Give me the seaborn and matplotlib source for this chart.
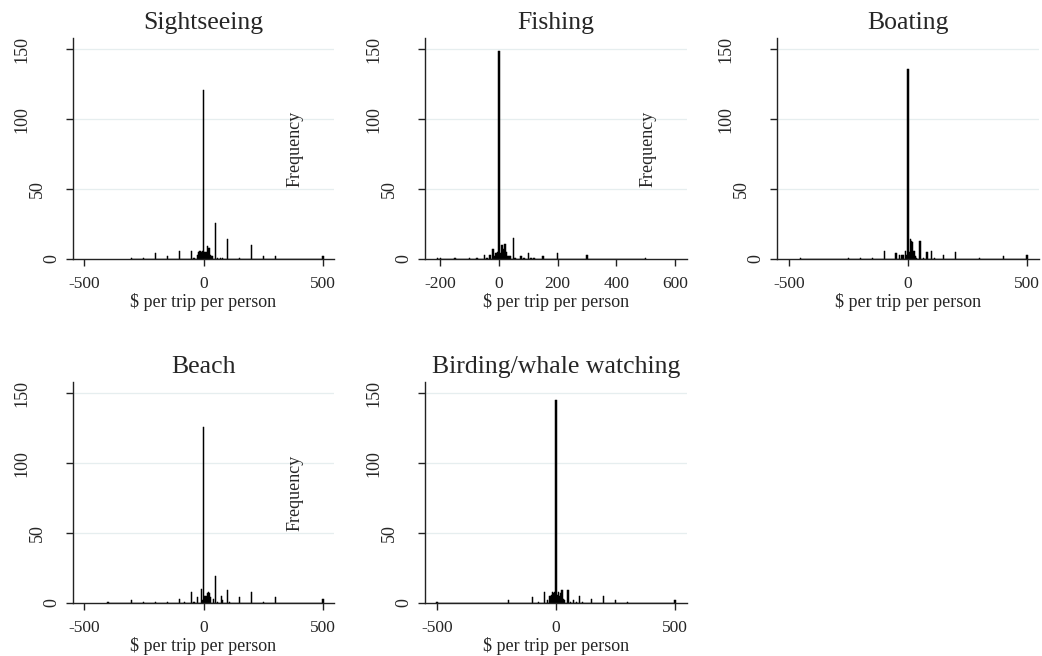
import numpy as np
import pandas as pd
import matplotlib
matplotlib.use("Agg")
import matplotlib.pyplot as plt
import seaborn as sns

# willingness to pay by activity: $ value and number of respondents
sight_x = [-300, -250, -200, -150, -100, -50, -40, -25, -20, -15, -10, -5, 0, 5, 10, 15, 20, 25, 30, 35,
           50, 60, 70, 80, 100, 150, 200, 250, 300, 500]
sight_n = [1, 1, 4, 2, 6, 6, 1, 3, 5, 6, 5, 6, 121, 5, 5, 9, 8, 8, 3, 2,
           26, 1, 1, 1, 14, 1, 10, 2, 2, 2]

fish_x = [-210, -200, -150, -100, -75, -50, -40, -30, -20, -15, -10, -5, 0, 5, 10, 15, 20, 25, 30, 35,
          40, 50, 55, 75, 85, 100, 110, 120, 150, 200, 300, 500]
fish_n = [1, 1, 1, 1, 1, 3, 1, 3, 7, 2, 4, 5, 149, 4, 10, 7, 11, 5, 2, 2,
          2, 15, 1, 2, 1, 4, 1, 1, 2, 4, 3, 1]

boat_x = [-450, -250, -200, -150, -100, -50, -35, -25, -20, -10, -5, 0, 5, 10, 15, 20, 25, 30, 35,
          50, 65, 80, 100, 110, 150, 200, 300, 400, 500]
boat_n = [1, 1, 1, 1, 6, 4, 3, 3, 3, 6, 3, 136, 5, 14, 13, 12, 6, 2, 1,
          13, 1, 5, 6, 1, 3, 5, 1, 2, 3]

beach_x = [-400, -300, -250, -200, -150, -100, -80, -50, -40, -25, -10, -5, 0, 5, 10, 15, 20, 25, 30,
           40, 50, 60, 75, 80, 100, 110, 150, 200, 250, 300, 500]
beach_n = [1, 2, 1, 1, 1, 3, 1, 8, 1, 4, 10, 2, 126, 5, 5, 7, 8, 7, 4,
           3, 19, 1, 5, 2, 9, 1, 4, 8, 1, 4, 3]

bird_x = [-500, -200, -100, -75, -50, -35, -25, -20, -15, -10, -5, 0, 5, 10, 15, 20, 25, 30, 35,
          50, 60, 75, 85, 100, 110, 150, 200, 250, 300, 500]
bird_n = [1, 2, 4, 1, 8, 2, 5, 6, 8, 7, 8, 145, 6, 8, 5, 7, 9, 3, 2,
          9, 1, 2, 1, 5, 1, 3, 5, 2, 1, 2]

titles = ["Sightseeing", "Fishing", "Boating", "Beach", "Birding/whale watching"]
y_ticks = [0, 50, 100, 150]

sns.set_theme(style="white")
plt.rcParams["font.family"] = ["Liberation Serif", "DejaVu Serif"]

panels = [
    (titles[0], sight_x, sight_n, (-546, 546), [-500, 0, 500], True, [0.0701, 0.6052, 0.2505, 0.3369]),
    (titles[1], fish_x, fish_n, (-252, 641), [-200, 0, 200, 400, 600], True, [0.4079, 0.6052, 0.2514, 0.3369]),
    (titles[2], boat_x, boat_n, (-550, 550), [-500, 0, 500], False, [0.7457, 0.6052, 0.2514, 0.3369]),
    (titles[3], beach_x, beach_n, (-546, 546), [-500, 0, 500], True, [0.0701, 0.0808, 0.2505, 0.3369]),
    (titles[4], bird_x, bird_n, (-550, 550), [-500, 0, 500], False, [0.4079, 0.0808, 0.2514, 0.3369]),
]

fig = plt.figure(figsize=(10.42, 6.56), dpi=100)

for title, xs, ns, xlim, xticks, freq, pos in panels:
    ax = fig.add_axes(pos)
    df = pd.DataFrame({"wtp": xs, "n": ns})
    sns.histplot(data=df, x="wtp", weights="n", binwidth=5,
                 binrange=(min(xs) - 2.5, max(xs) + 2.5),
                 color="black", edgecolor="black", linewidth=0.35, alpha=1, ax=ax)
    ax.set_xlim(*xlim)
    ax.set_ylim(0, 158)
    ax.set_xticks(xticks)
    ax.set_xticklabels([f"{t}" for t in xticks], fontsize=12.5)
    ax.set_yticks(y_ticks)
    ax.set_yticklabels([])
    for yv in y_ticks[1:]:
        ax.axhline(yv, color="#e6eeef", lw=0.9, zorder=0)
    # stata-like rotated y labels
    for yv in y_ticks:
        lab = str(yv)
        off = 6 + 15 * len(lab)
        ax.annotate(lab, xy=(0, yv), xycoords=ax.get_yaxis_transform(),
                    xytext=(-off * 0.72, 0), textcoords="offset points",
                    rotation=90, ha="center", va="center", fontsize=13)
    ax.tick_params(axis="both", direction="out", length=5, width=1, color="#222222",
                   bottom=True, left=True)
    ax.tick_params(axis="x", pad=7)
    for s in ["top", "right"]:
        ax.spines[s].set_visible(False)
    for s in ["left", "bottom"]:
        ax.spines[s].set_color("#222222")
        ax.spines[s].set_linewidth(1.0)
    ax.set_xlabel("$ per trip per person", fontsize=13, labelpad=1)
    ax.set_ylabel("")
    ax.set_title(title, fontsize=18.5, pad=6.5)
    if freq:
        ax.text(0.85, 0.5, "Frequency", transform=ax.transAxes, rotation=90,
                ha="center", va="center", fontsize=13)

fig.savefig("out.png", dpi=100)
